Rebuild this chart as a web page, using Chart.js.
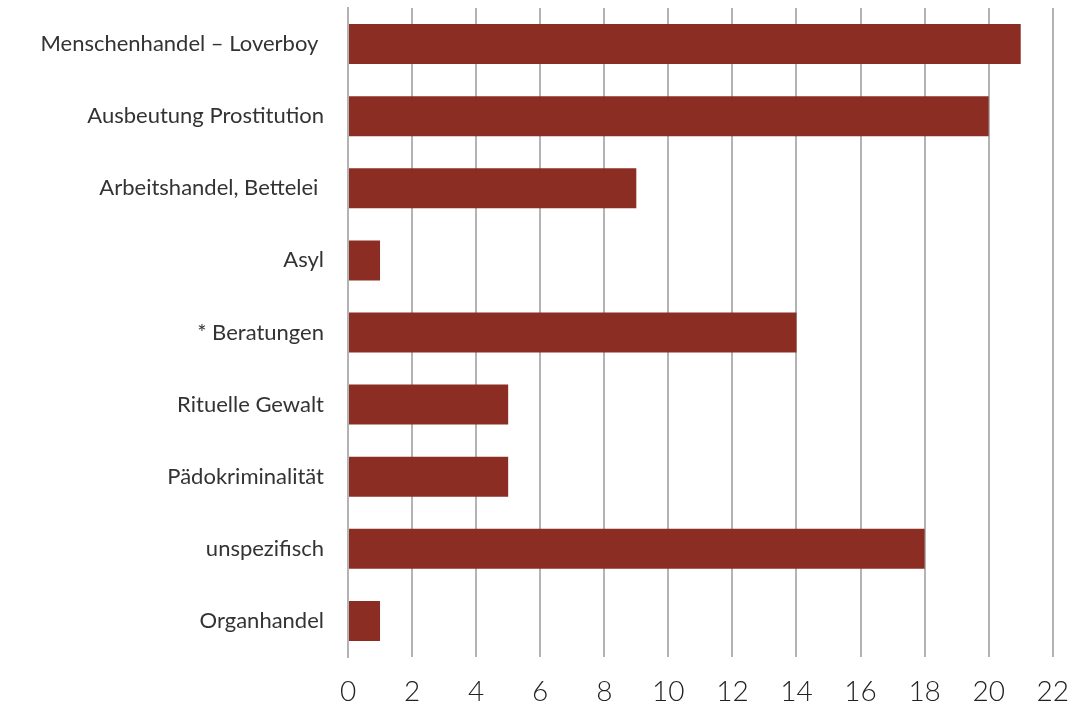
<!DOCTYPE html>
<html>
<head>
<meta charset="utf-8">
<script src="https://cdn.jsdelivr.net/npm/chart.js@4"></script>
<style>
  html, body { margin: 0; padding: 0; background: #fff; }
  #wrap { width: 1087px; height: 706px; }
</style>
</head>
<body>
<div id="wrap"><canvas id="myChart"></canvas></div>
<script>
const categories = [
  "Menschenhandel – Loverboy ",
  "Ausbeutung Prostitution",
  "Arbeitshandel, Bettelei ",
  "Asyl",
  "* Beratungen",
  "Rituelle Gewalt",
  "Pädokriminalität",
  "unspezifisch",
  "Organhandel",
];
const values = [21, 20, 9, 1, 14, 5, 5, 18, 1];
const xTicks = [0, 2, 4, 6, 8, 10, 12, 14, 16, 18, 20, 22];

const gridColor = "#b3b3b3";

const ctx = document.getElementById("myChart").getContext("2d");
new Chart(ctx, {
  type: "bar",
  data: {
    labels: categories,
    datasets: [
      {
        data: values,
        backgroundColor: "#8c2d24",
        barPercentage: 0.555,
        categoryPercentage: 1,
      },
    ],
  },
  options: {
    indexAxis: "y",
    responsive: true,
    maintainAspectRatio: false,
    animation: false,
    layout: { padding: { top: 8, right: 18, left: 0, bottom: 0 } },
    plugins: {
      legend: { display: false },
      tooltip: { enabled: false },
    },
    scales: {
      x: {
        min: 0,
        max: 22,
        afterBuildTicks: (axis) => {
          axis.ticks = xTicks.map((v) => ({ value: v }));
        },
        afterFit: (axis) => {
          axis.height = 49;
        },
        grid: { color: gridColor, lineWidth: 2, drawTicks: false },
        border: { display: false },
        ticks: {
          color: "#222",
          padding: 18,
          font: { family: "Lato", size: 28, weight: 300 },
        },
      },
      y: {
        afterFit: (axis) => {
          axis.width = 348; // keep the axis line where the reference has it
          axis.paddingTop = 0;
          axis.paddingBottom = 0;
        },
        grid: { display: false },
        border: { display: true, color: gridColor, width: 2 },
        ticks: {
          color: "#333",
          padding: 16,
          font: { family: "Lato", size: 22 },
        },
      },
    },
  },
});
</script>
</body>
</html>
